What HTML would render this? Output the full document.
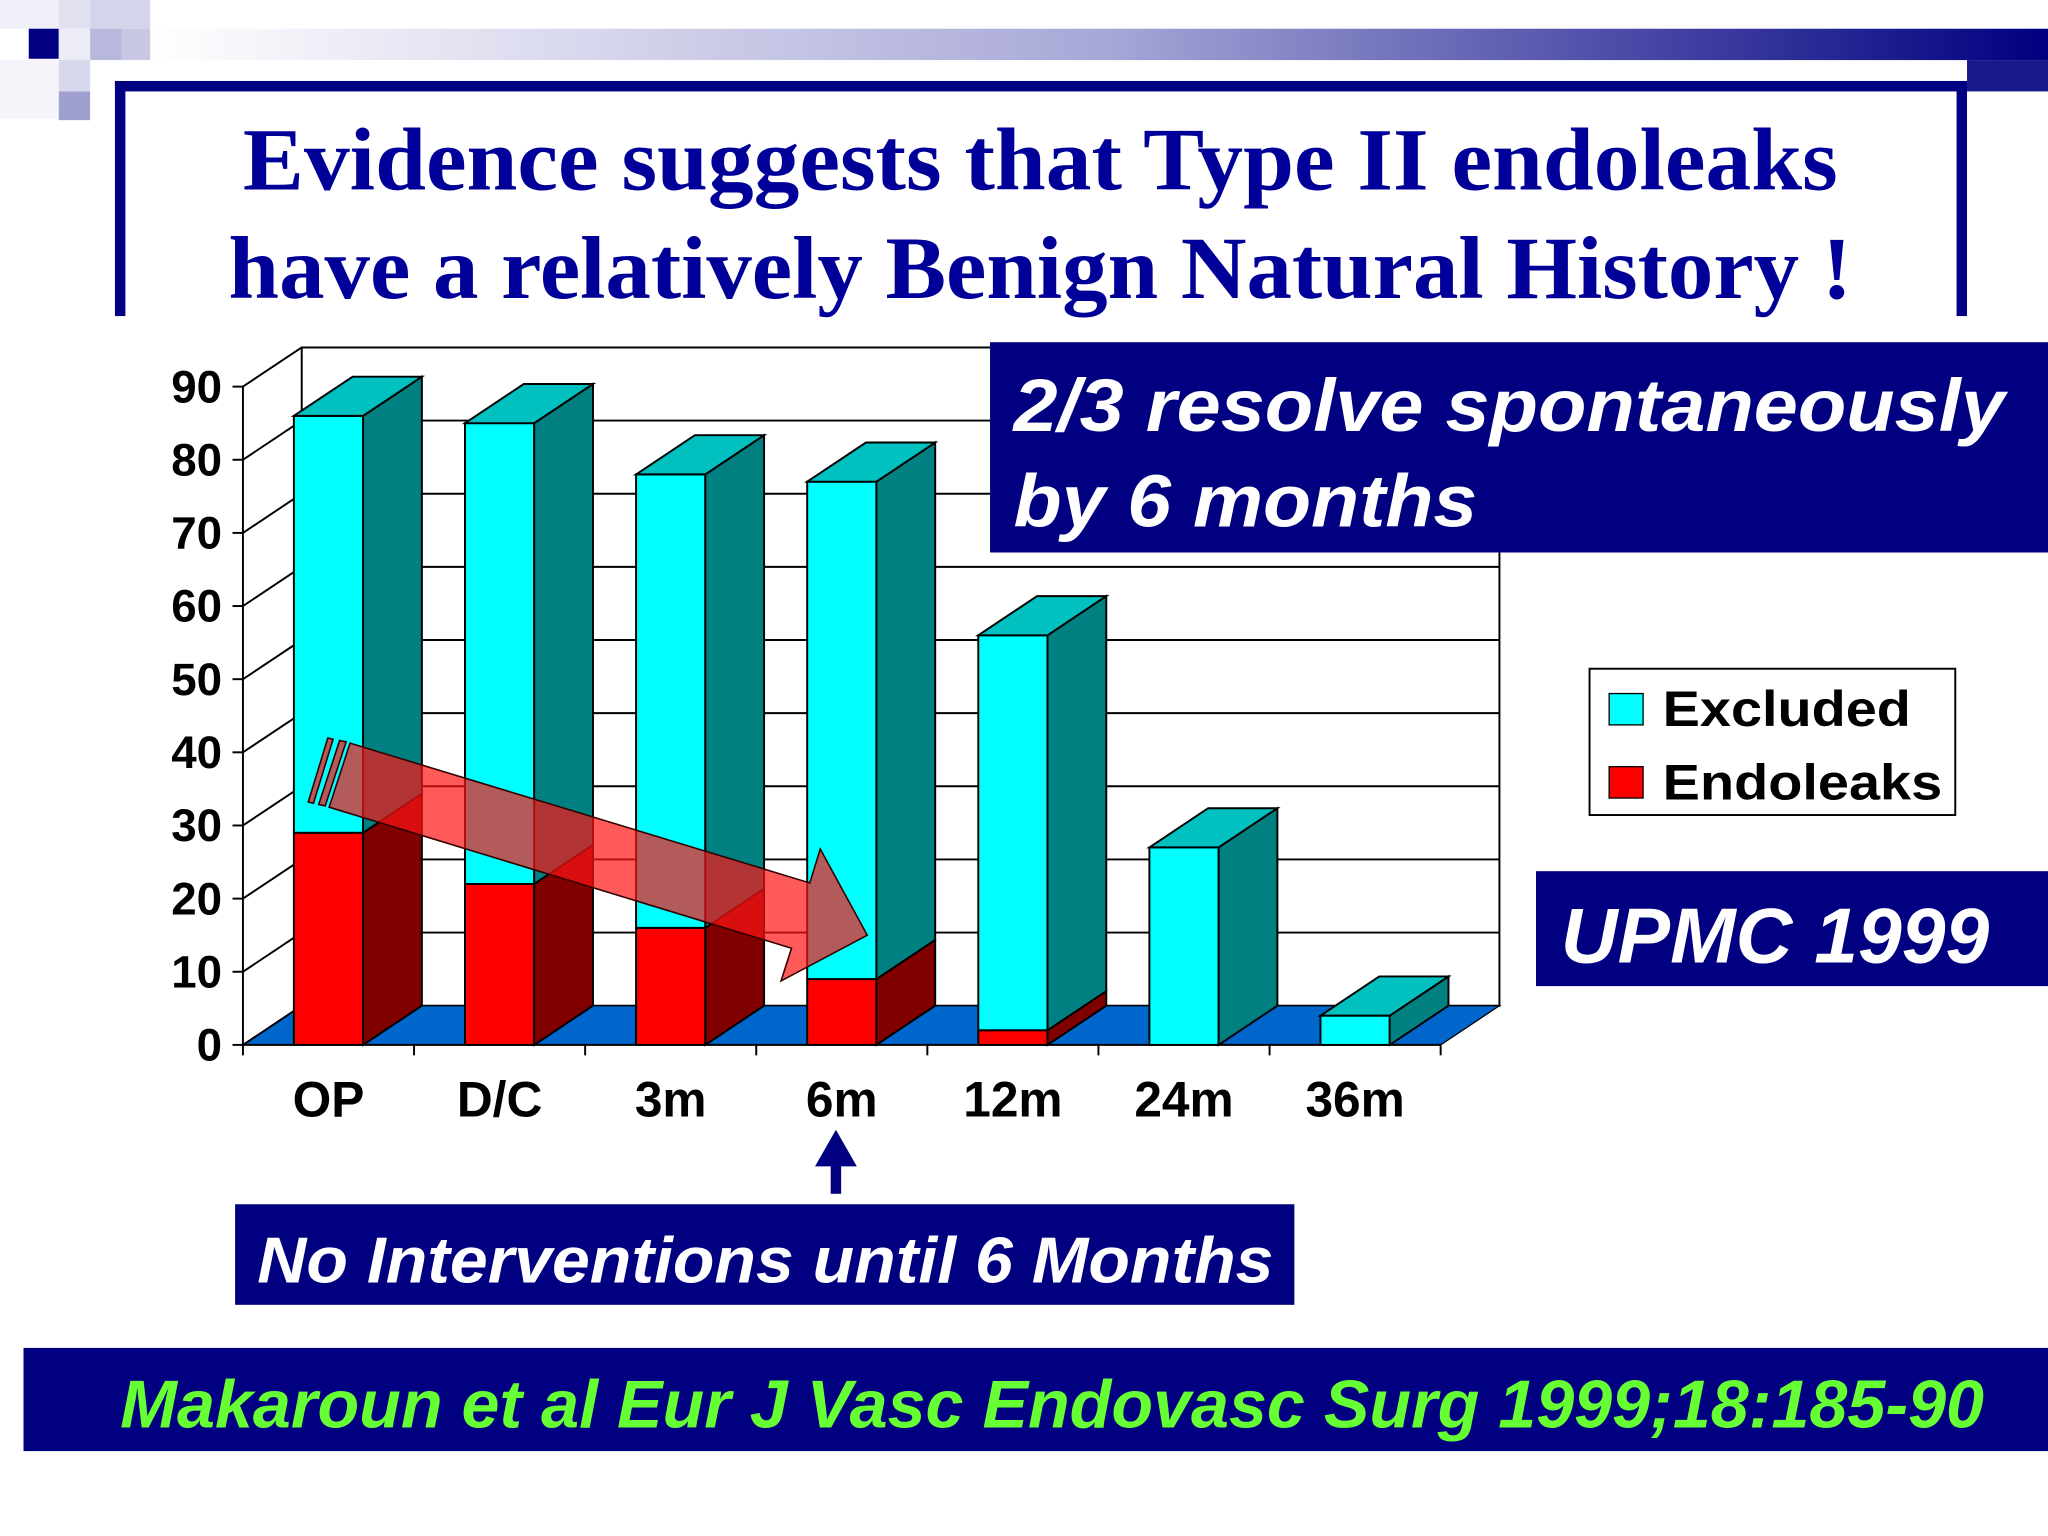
<!DOCTYPE html>
<html><head><meta charset="utf-8"><style>
html,body{margin:0;padding:0;background:#fff;}
svg{display:block;}
</style></head><body>
<svg id="slide" width="2048" height="1536" viewBox="0 0 1568 1176" xmlns="http://www.w3.org/2000/svg">
<defs>
<linearGradient id="hdr" x1="0" x2="1" y1="0" y2="0">
<stop offset="0" stop-color="#ffffff"/><stop offset="0.5" stop-color="#a8a8d8"/><stop offset="1" stop-color="#000080"/>
</linearGradient>
</defs>
<g>
<rect x="115" y="22" width="1453" height="24" fill="url(#hdr)"/>
<rect x="1506" y="46" width="62" height="24" fill="#000080" opacity="0.9"/>
<rect x="0" y="0" width="45" height="22" fill="#f0f0f8"/>
<rect x="45" y="0" width="24" height="22" fill="#e0e0ee"/>
<rect x="69" y="0" width="46" height="22" fill="#d4d4ea"/>
<rect x="22" y="22" width="23" height="23" fill="#000080"/>
<rect x="45" y="22" width="24" height="24" fill="#ececf6"/>
<rect x="69" y="22" width="24" height="24" fill="#b8b8dc"/>
<rect x="93" y="22" width="22" height="24" fill="#c8c8e4"/>
<rect x="0" y="46" width="45" height="45" fill="#f4f4fa"/>
<rect x="45" y="46" width="24" height="24" fill="#d8d8ec"/>
<rect x="45" y="70" width="24" height="22" fill="#a0a0d0"/>
</g>
<g fill="#000080">
<rect x="88" y="62" width="1418" height="8"/>
<rect x="88" y="62" width="8" height="180"/>
<rect x="1498" y="62" width="8" height="180"/>
</g>
<text x="186" y="145" textLength="1221" lengthAdjust="spacingAndGlyphs" font-family="Liberation Serif, serif" font-weight="bold" font-size="68" fill="#000099">Evidence suggests that Type II endoleaks</text>
<text x="175" y="228" textLength="1243" lengthAdjust="spacingAndGlyphs" font-family="Liberation Serif, serif" font-weight="bold" font-size="68" fill="#000099">have a relatively Benign Natural History !</text>

<g id="chart"></g>

<g>
<rect x="758" y="262" width="810" height="161" fill="#000080"/>
<text x="776" y="330" textLength="759" lengthAdjust="spacingAndGlyphs" font-family="Liberation Sans, sans-serif" font-weight="bold" font-style="italic" font-size="57" fill="#fff">2/3 resolve spontaneously</text>
<text x="776" y="403" textLength="355" lengthAdjust="spacingAndGlyphs" font-family="Liberation Sans, sans-serif" font-weight="bold" font-style="italic" font-size="57" fill="#fff">by 6 months</text>
</g>
<g>
<rect x="1217" y="512" width="280" height="112" fill="#fff" stroke="#000" stroke-width="1.5"/>
<rect x="1232" y="531" width="26" height="24" fill="#00ffff" stroke="#000"/>
<text x="1273" y="556" textLength="190" lengthAdjust="spacingAndGlyphs" font-family="Liberation Sans, sans-serif" font-weight="bold" font-size="38" fill="#000">Excluded</text>
<rect x="1232" y="587" width="26" height="24" fill="#ff0000" stroke="#000"/>
<text x="1273" y="612" textLength="214" lengthAdjust="spacingAndGlyphs" font-family="Liberation Sans, sans-serif" font-weight="bold" font-size="38" fill="#000">Endoleaks</text>
</g>
<g>
<rect x="1176" y="667" width="392" height="88" fill="#000080"/>
<text x="1195" y="737" textLength="328" lengthAdjust="spacingAndGlyphs" font-family="Liberation Sans, sans-serif" font-weight="bold" font-style="italic" font-size="60" fill="#fff">UPMC 1999</text>
</g>
<g fill="#000080">
<polygon points="640,865 624,893 656,893"/>
<rect x="636" y="890" width="8" height="24"/>
</g>
<g>
<rect x="180" y="922" width="811" height="77" fill="#000080"/>
<text x="197" y="982" textLength="778" lengthAdjust="spacingAndGlyphs" font-family="Liberation Sans, sans-serif" font-weight="bold" font-style="italic" font-size="50" fill="#fff">No Interventions until 6 Months</text>
</g>
<g>
<rect x="18" y="1032" width="1550" height="79" fill="#000080"/>
<text x="92" y="1093" textLength="1427" lengthAdjust="spacingAndGlyphs" font-family="Liberation Sans, sans-serif" font-weight="bold" font-style="italic" font-size="52" fill="#66ff33">Makaroun et al Eur J Vasc Endovasc Surg 1999;18:185-90</text>
</g>
</svg>
<script>
const categories = ["OP","D/C","3m","6m","12m","24m","36m"];
const endoleaks = [29,22,16,9,2,0,0];
const excluded = [57,63,62,68,54,27,4];
const yTicks = [0,10,20,30,40,50,60,70,80,90];

const NS = "http://www.w3.org/2000/svg";
const g = document.getElementById('chart');
const X0 = 186, Y0 = 800, UNIT = 5.6, STEP = 131, DX = 45, DY = -30, BW = 53, BOFF = 39;
function yS(v){ return Y0 - v*UNIT; }
function xS(i){ return X0 + i*STEP; }
function mk(tag, attrs, parent){
  const e = document.createElementNS(NS, tag);
  for (const k in attrs) e.setAttribute(k, attrs[k]);
  (parent||g).appendChild(e);
  return e;
}
const xEnd = xS(categories.length);
mk('polygon',{points:`${X0+DX},${yS(90)+DY} ${xEnd+DX},${yS(90)+DY} ${xEnd+DX},${Y0+DY} ${X0+DX},${Y0+DY}`,fill:'#fff',stroke:'#000','stroke-width':1.5});
const floor = mk('polygon',{points:`${X0},${Y0} ${xEnd},${Y0} ${xEnd+DX},${Y0+DY} ${X0+DX},${Y0+DY}`,fill:'#0066cc',stroke:'#000','stroke-width':1});


yTicks.forEach(v=>{
  if(v>0){
    const gl = mk('line',{x1:X0+DX,y1:yS(v)+DY,x2:xEnd+DX,y2:yS(v)+DY,stroke:'#000','stroke-width':1.5});
    
    
  }
  mk('line',{x1:X0,y1:yS(v),x2:X0+DX,y2:yS(v)+DY,stroke:'#000','stroke-width':1.5});
  mk('line',{x1:X0-8,y1:yS(v),x2:X0,y2:yS(v),stroke:'#000','stroke-width':1.5});
  const t = mk('text',{x:170,y:yS(v)+12,'text-anchor':'end','font-family':'Liberation Sans, sans-serif','font-weight':'bold','font-size':35,fill:'#000'});
  t.textContent = v;
  
  
});
mk('line',{x1:X0,y1:yS(0),x2:X0,y2:yS(90),stroke:'#000','stroke-width':1.5});
mk('line',{x1:X0,y1:Y0,x2:xEnd,y2:Y0,stroke:'#000','stroke-width':1.5});
for(let i=0;i<=categories.length;i++){
  mk('line',{x1:xS(i),y1:Y0,x2:xS(i),y2:Y0+8,stroke:'#000','stroke-width':1.5});
}
function box(x, ylo, yhi, front, side, top, name){
  const r = mk('rect',{x:x,y:yhi,width:BW,height:Math.max(0,ylo-yhi),fill:front,stroke:'#000','stroke-width':1.5});
  
  
  mk('polygon',{points:`${x+BW},${ylo} ${x+BW+DX},${ylo+DY} ${x+BW+DX},${yhi+DY} ${x+BW},${yhi}`,fill:side,stroke:'#000','stroke-width':1.5});
  if(top) mk('polygon',{points:`${x},${yhi} ${x+DX},${yhi+DY} ${x+BW+DX},${yhi+DY} ${x+BW},${yhi}`,fill:top,stroke:'#000','stroke-width':1.5});
}
categories.forEach((c,i)=>{
  const x = xS(i)+BOFF;
  const e = endoleaks[i], ex = excluded[i];
  if(e>0) box(x, yS(0), yS(e), '#ff0000', '#800000', ex>0?null:'#c00000', 'bar-endoleaks-'+c);
  if(ex>0) box(x, yS(e), yS(e+ex), '#00ffff', '#008080', '#00c0c0', 'bar-excluded-'+c);
  const t = mk('text',{x:xS(i)+STEP/2,y:855,'text-anchor':'middle','font-family':'Liberation Sans, sans-serif','font-weight':'bold','font-size':38,fill:'#000'});
  t.textContent = c;
  
  
});
const ar = mk('g',{});


mk('polygon',{points:'268,569 620,676 628,650 664,716 598,751 606,726 252,618',fill:'rgba(255,20,20,0.7)',stroke:'#300','stroke-width':1.2},ar);
mk('polygon',{points:'260,567 265,568 249,617 244,616',fill:'rgba(255,20,20,0.7)',stroke:'#300','stroke-width':1.2},ar);
mk('polygon',{points:'251,565 255,566 240,615 236,614',fill:'rgba(255,20,20,0.7)',stroke:'#300','stroke-width':1.2},ar);
</script>
</body></html>
